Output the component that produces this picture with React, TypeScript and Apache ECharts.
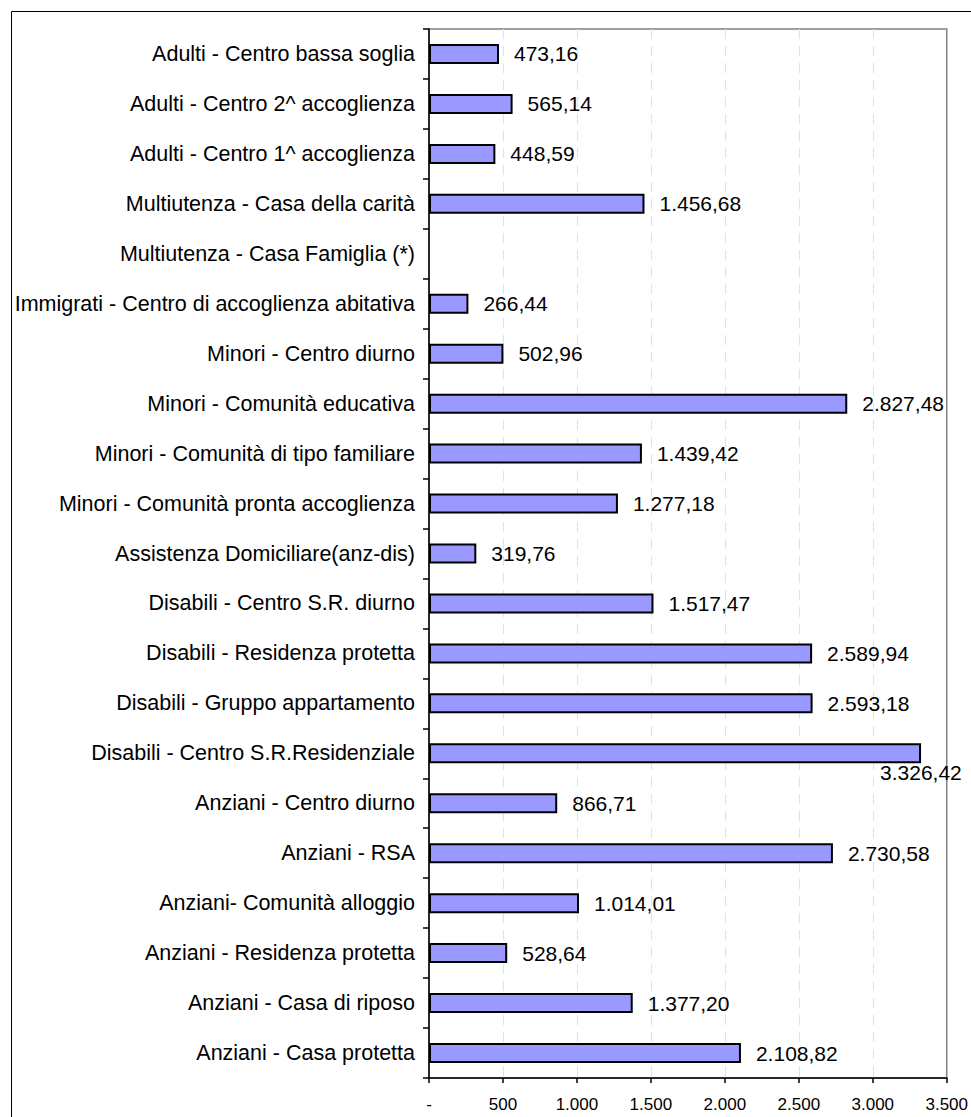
import React, { useEffect, useRef } from "react";
import * as echarts from "echarts";

const categories = [
  "Adulti - Centro bassa soglia",
  "Adulti - Centro 2^ accoglienza",
  "Adulti - Centro 1^ accoglienza",
  "Multiutenza - Casa della carità",
  "Multiutenza - Casa Famiglia (*)",
  "Immigrati - Centro di accoglienza abitativa",
  "Minori - Centro diurno",
  "Minori - Comunità educativa",
  "Minori - Comunità di tipo familiare",
  "Minori - Comunità pronta accoglienza",
  "Assistenza Domiciliare(anz-dis)",
  "Disabili - Centro S.R. diurno",
  "Disabili - Residenza protetta",
  "Disabili - Gruppo appartamento",
  "Disabili - Centro S.R.Residenziale",
  "Anziani - Centro diurno",
  "Anziani - RSA",
  "Anziani- Comunità alloggio",
  "Anziani - Residenza protetta",
  "Anziani - Casa di riposo",
  "Anziani - Casa protetta",
];

const values: (number | null)[] = [
  473.16, 565.14, 448.59, 1456.68, null, 266.44, 502.96, 2827.48, 1439.42,
  1277.18, 319.76, 1517.47, 2589.94, 2593.18, 3326.42, 866.71, 2730.58,
  1014.01, 528.64, 1377.2, 2108.82,
];

const axisMin = 0;
const axisMax = 3500;
const axisStep = 500;

function groupThousands(intPart: string): string {
  return intPart.replace(/\B(?=(\d{3})+(?!\d))/g, ".");
}

function fmtValue(v: number): string {
  const [i, d] = v.toFixed(2).split(".");
  return groupThousands(i) + "," + d;
}

function fmtTick(v: number): string {
  if (v === 0) return "-";
  return groupThousands(String(Math.round(v)));
}

export default function App() {
  const ref = useRef<HTMLDivElement>(null);
  useEffect(() => {
    if (!ref.current) return;
    const chart = echarts.init(ref.current, undefined, { renderer: "svg" });
    const font = "'Liberation Sans', Arial, sans-serif";
    const maxIdx = values.reduce(
      (best: number, v, i) => (v !== null && (best < 0 || v > (values[best] as number)) ? i : best),
      -1
    );
    const data = values.map((v, i) => {
      if (v === null) return { value: null };
      if (i === maxIdx) {
        return {
          value: v,
          label: { offset: [-56, 19] },
        };
      }
      return { value: v };
    });
    chart.setOption({
      animation: false,
      backgroundColor: "#ffffff",
      graphic: [
        {
          type: "rect",
          left: 9,
          top: 9,
          shape: { x: 0, y: 0, width: 3000, height: 3000 },
          style: { fill: "none", stroke: "#000", lineWidth: 1 },
          silent: true,
          z: 100,
        },
      ],
      grid: {
        left: 429,
        top: 29,
        width: 520,
        height: 1049,
        show: true,
        borderColor: "#808080",
        borderWidth: 1.5,
        backgroundColor: "transparent",
        containLabel: false,
      },
      xAxis: {
        type: "value",
        min: axisMin,
        max: axisMax,
        interval: axisStep,
        axisLine: { show: true, lineStyle: { color: "#000", width: 1.5 } },
        axisTick: { show: true, length: 5, lineStyle: { color: "#000", width: 1.5 } },
        axisLabel: {
          formatter: (v: number) => fmtTick(v),
          fontFamily: font,
          fontSize: 17,
          color: "#000",
          margin: 18,
        },
        splitLine: {
          show: true,
          showMinLine: false,
          showMaxLine: false,
          lineStyle: { color: "#c2f0f0", type: [10, 7], width: 1.2 },
        },
      },
      yAxis: {
        type: "category",
        data: categories,
        inverse: true,
        axisLine: { show: true, lineStyle: { color: "#000", width: 1.5 } },
        axisTick: { show: true, length: 6, lineStyle: { color: "#000", width: 1.5 } },
        axisLabel: {
          fontFamily: font,
          fontSize: 21.5,
          color: "#000",
          margin: 14,
        },
        splitLine: { show: false },
      },
      series: [
        {
          type: "bar",
          data,
          barWidth: 20,
          itemStyle: { color: "#9999ff", borderColor: "#000", borderWidth: 2 },
          label: {
            show: true,
            position: "right",
            distance: 15,
            fontFamily: font,
            fontSize: 21,
            color: "#000",
            formatter: (p: any) => (p.value == null ? "" : fmtValue(p.value)),
          },
        },
      ],
    });
    return () => chart.dispose();
  }, []);
  return (
    <div
      ref={ref}
      style={{ position: "fixed", left: 0, top: 0, width: 971, height: 1117 }}
    />
  );
}
